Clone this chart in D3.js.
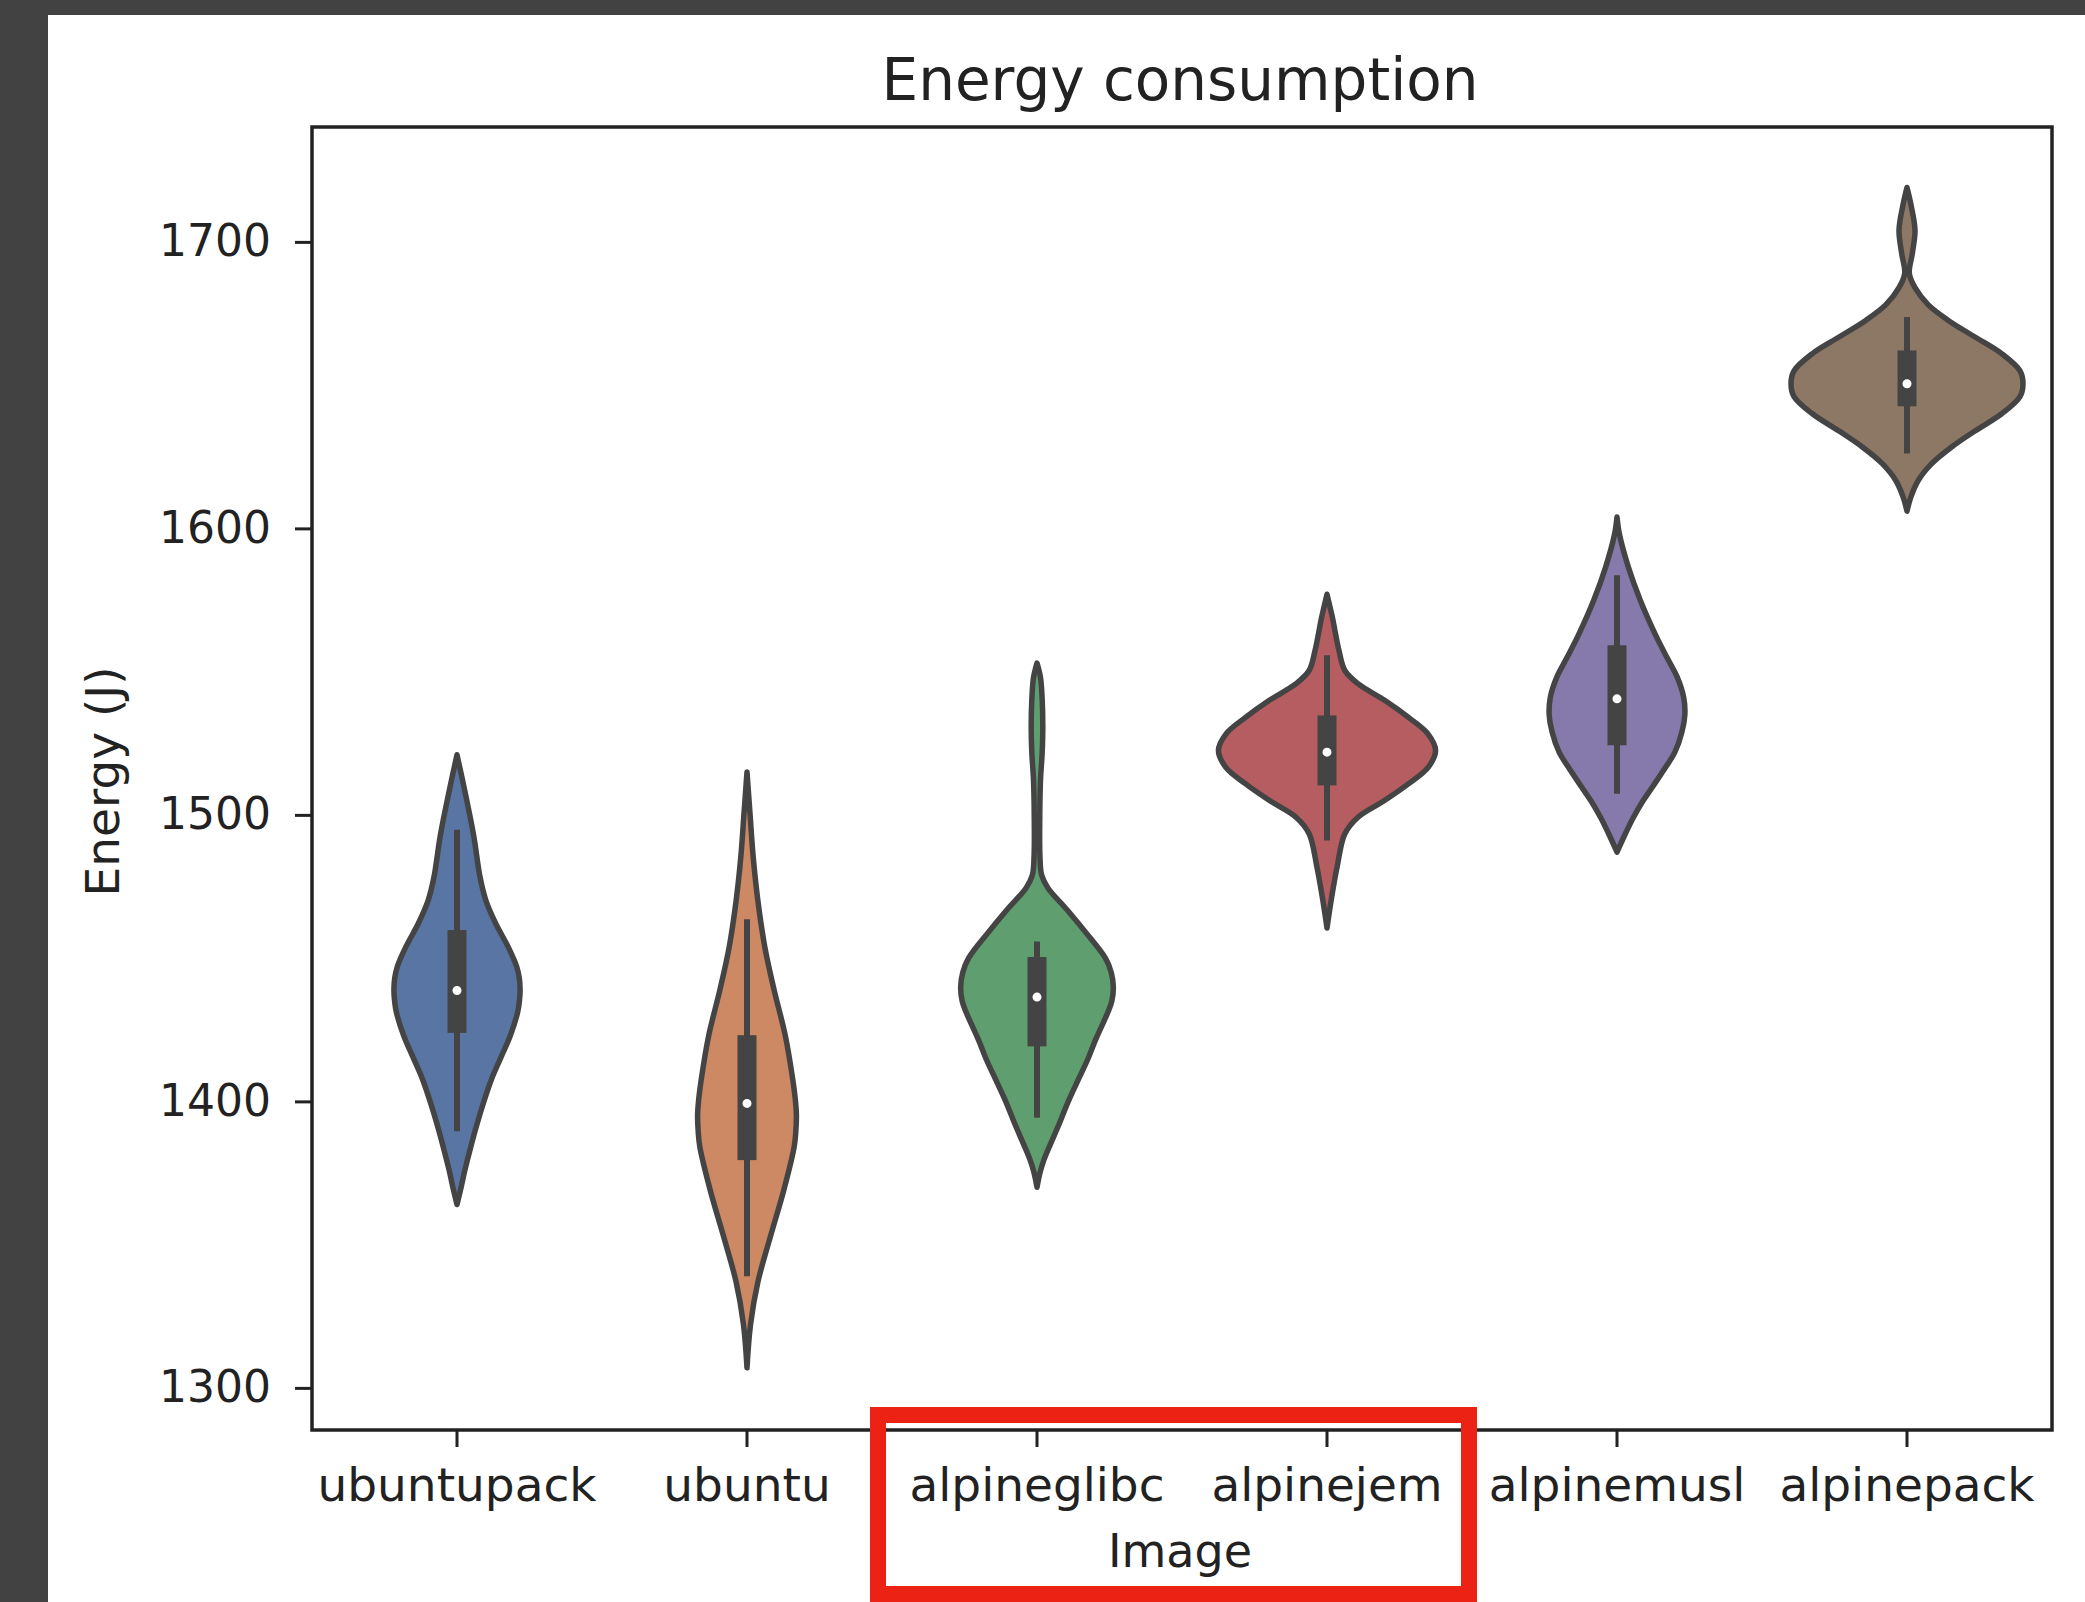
<!DOCTYPE html>
<html>
<head>
<meta charset="utf-8">
<script src="https://cdn.jsdelivr.net/npm/d3@7"></script>
<style>
  html, body { margin: 0; padding: 0; background: #424242; }
  svg { display: block; }
</style>
</head>
<body>
<div id="chart"></div>
<script>
// Categories along the x axis
const categories = ['ubuntupack', 'ubuntu', 'alpineglibc', 'alpinejem', 'alpinemusl', 'alpinepack'];

// Inner box summary per category (J)
const whiskerLow  = [1389.6, 1339.0, 1394.3, 1491.1, 1507.4, 1626.1];
const q1          = [1423.9, 1379.5, 1419.2, 1510.3, 1524.3, 1642.6];
const medians     = [1438.7, 1399.3, 1436.4, 1521.9, 1540.5, 1650.5];
const q3          = [1459.8, 1423.1, 1450.4, 1534.7, 1559.2, 1662.1];
const whiskerHigh = [1494.8, 1463.6, 1455.8, 1555.7, 1583.6, 1673.8];

// Violin outlines: [energy, relative density], top to bottom
const ubuntupackDensity = [
  [1521, 0], [1509, 0.064], [1493, 0.143], [1478, 0.2], [1470, 0.25], [1462, 0.335],
  [1454, 0.44], [1447, 0.515], [1443, 0.537], [1439, 0.544], [1435, 0.538], [1431, 0.522],
  [1423, 0.46], [1415, 0.375], [1408, 0.3], [1400, 0.232], [1392, 0.172], [1384, 0.118],
  [1376, 0.068], [1369, 0.03], [1364, 0]
];
const ubuntuDensity = [
  [1515, 0], [1501, 0.025], [1485, 0.054], [1470, 0.094], [1454, 0.153], [1439, 0.233],
  [1423, 0.33], [1408, 0.393], [1400, 0.418], [1395, 0.426], [1389, 0.42], [1384, 0.406],
  [1369, 0.317], [1353, 0.203], [1337, 0.094], [1322, 0.03], [1307, 0]
];
const alpineglibcDensity = [
  [1553, 0], [1548, 0.03], [1540, 0.045], [1530, 0.05], [1522, 0.045], [1512, 0.03],
  [1500, 0.024], [1486, 0.025], [1479, 0.04], [1474.5, 0.094], [1467, 0.257], [1459, 0.42],
  [1450, 0.59], [1445, 0.64], [1440, 0.658], [1435, 0.645], [1431, 0.61], [1422, 0.51],
  [1414, 0.43], [1407.5, 0.355], [1400, 0.27], [1392, 0.19], [1385, 0.115], [1379.5, 0.059],
  [1375, 0.025], [1370, 0]
];
const alpinejemDensity = [
  [1577, 0], [1569, 0.046], [1557.4, 0.103], [1550.4, 0.154], [1545.8, 0.267], [1539.9, 0.5],
  [1534.1, 0.7], [1528.3, 0.87], [1522.5, 0.936], [1516.7, 0.874], [1510.9, 0.704],
  [1505.1, 0.499], [1499.2, 0.267], [1493.4, 0.154], [1481.8, 0.087], [1470.2, 0.036], [1460.5, 0]
];
const alpinemuslDensity = [
  [1604, 0], [1598, 0.021], [1586.5, 0.098], [1575, 0.2], [1563, 0.33], [1555, 0.43],
  [1548, 0.52], [1541, 0.575], [1535, 0.585], [1529, 0.56], [1522, 0.5], [1516.7, 0.42],
  [1510, 0.31], [1505, 0.226], [1499, 0.14], [1493.4, 0.072], [1487, 0]
];
const alpinepackDensity = [
  [1719, 0], [1713, 0.034], [1704, 0.069], [1696, 0.046], [1689, 0.02], [1684, 0.069],
  [1678, 0.184], [1672.6, 0.356], [1666.8, 0.586], [1661, 0.816], [1655, 0.974], [1650.5, 1.0],
  [1646, 0.974], [1640, 0.816], [1634, 0.586], [1628.4, 0.385], [1622.6, 0.213], [1616.8, 0.098],
  [1611, 0.034], [1606, 0]
];

// Tick values for the y axis
const yTicks = [1300, 1400, 1500, 1600, 1700];

const densities = [ubuntupackDensity, ubuntuDensity, alpineglibcDensity,
  alpinejemDensity, alpinemuslDensity, alpinepackDensity];

// seaborn deep palette, desaturated
const palette = ['#5975a4', '#cc8963', '#5f9e6e', '#b55d60', '#857aab', '#8d7866'];
const gray = '#444444';
const font = '"DejaVu Sans", sans-serif';

const width = 2085;
const height = 1602;
const plot = { left: 312, top: 127, right: 2052, bottom: 1430 };

const svg = d3.select('#chart')
  .append('svg')
  .attr('width', width)
  .attr('height', height);

// dark frame and white canvas
svg.append('rect').attr('width', width).attr('height', height).attr('fill', '#424242');
svg.append('rect')
  .attr('x', 48).attr('y', 15)
  .attr('width', width - 48).attr('height', height - 15)
  .attr('fill', '#ffffff');

// Scales
const x = d3.scaleBand().domain(categories).range([plot.left, plot.right]).padding(0);
const y = d3.scaleLinear().domain([1285.3, 1740.1]).range([plot.bottom, plot.top]);
const w = d3.scaleLinear().domain([0, 1]).range([0, x.bandwidth() * 0.4]);

// Violins
const violins = svg.append('g');
categories.forEach((c, i) => {
  const cx = x(c) + x.bandwidth() / 2;
  const area = d3.area()
    .curve(d3.curveCatmullRom.alpha(0.5))
    .y(d => y(d[0]))
    .x0(d => cx - w(d[1]))
    .x1(d => cx + w(d[1]));

  violins.append('path')
    .attr('d', area(densities[i]))
    .attr('fill', palette[i])
    .attr('stroke', gray)
    .attr('stroke-width', 5.5)
    .attr('stroke-linejoin', 'round');

  // whisker line
  violins.append('line')
    .attr('x1', cx).attr('x2', cx)
    .attr('y1', y(whiskerLow[i])).attr('y2', y(whiskerHigh[i]))
    .attr('stroke', gray)
    .attr('stroke-width', 6);

  // inter-quartile box
  violins.append('rect')
    .attr('x', cx - 9.5)
    .attr('width', 19)
    .attr('y', y(q3[i]))
    .attr('height', y(q1[i]) - y(q3[i]))
    .attr('fill', gray);

  // median dot
  violins.append('circle')
    .attr('cx', cx)
    .attr('cy', y(medians[i]))
    .attr('r', 5.5)
    .attr('fill', '#ffffff')
    .attr('stroke', gray)
    .attr('stroke-width', 2);
});

// Axes
svg.append('g')
  .attr('transform', `translate(${plot.left},0)`)
  .call(d3.axisLeft(y).tickValues(yTicks).tickSize(17).tickPadding(24).tickFormat(d3.format('d')))
  .call(g => g.select('.domain').remove())
  .call(g => g.selectAll('line').attr('stroke', '#222').attr('stroke-width', 3))
  .call(g => g.selectAll('text')
    .attr('font-family', font).attr('font-size', 44).attr('fill', '#222').attr('dy', '0.31em'));

svg.append('g')
  .attr('transform', `translate(0,${plot.bottom})`)
  .call(d3.axisBottom(x).tickSize(17).tickPadding(21))
  .call(g => g.select('.domain').remove())
  .call(g => g.selectAll('line').attr('stroke', '#222').attr('stroke-width', 3))
  .call(g => g.selectAll('text')
    .attr('font-family', font).attr('font-size', 47).attr('fill', '#222'));

// Spines
svg.append('rect')
  .attr('x', plot.left).attr('y', plot.top)
  .attr('width', plot.right - plot.left)
  .attr('height', plot.bottom - plot.top)
  .attr('fill', 'none')
  .attr('stroke', '#222')
  .attr('stroke-width', 3.5);

// Titles
const midX = (plot.left + plot.right) / 2 - 2;
svg.append('text')
  .attr('x', midX).attr('y', 100)
  .attr('text-anchor', 'middle')
  .attr('font-family', font).attr('font-size', 58).attr('fill', '#222')
  .text('Energy consumption');

svg.append('text')
  .attr('x', midX).attr('y', 1567)
  .attr('text-anchor', 'middle')
  .attr('font-family', font).attr('font-size', 46).attr('fill', '#222')
  .text('Image');

svg.append('text')
  .attr('transform', `translate(119,${(plot.top + plot.bottom) / 2 + 3}) rotate(-90)`)
  .attr('text-anchor', 'middle')
  .attr('font-family', font).attr('font-size', 47).attr('fill', '#222')
  .text('Energy (J)');

// Red highlight box around the middle tick labels
svg.append('rect')
  .attr('x', 878).attr('y', 1415)
  .attr('width', 591).attr('height', 179)
  .attr('fill', 'none')
  .attr('stroke', '#ec2314')
  .attr('stroke-width', 16);
</script>
</body>
</html>
